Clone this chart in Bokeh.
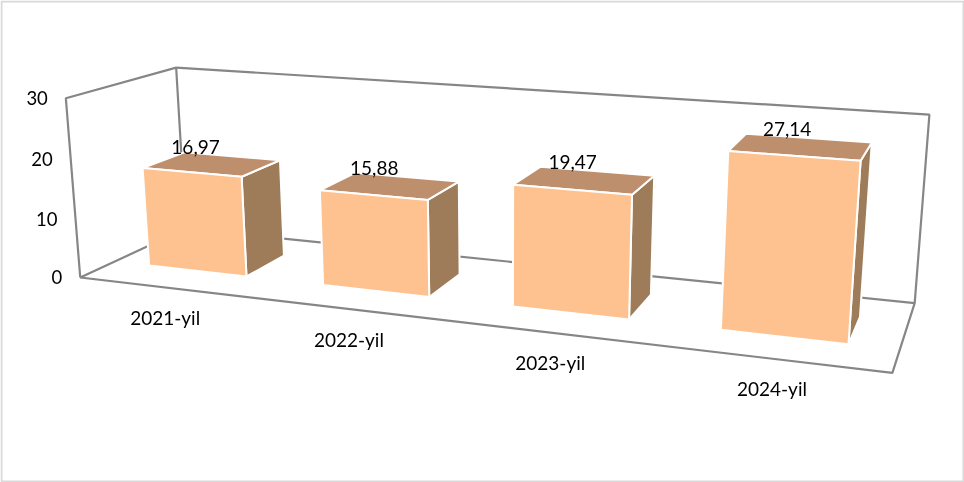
import numpy as np
from bokeh.plotting import figure
from bokeh.models import Range1d
from bokeh.embed import file_html
from bokeh.resources import INLINE
from bokeh.core.properties import value

categories = ["2021-yil", "2022-yil", "2023-yil", "2024-yil"]
values = [16.97, 15.88, 19.47, 27.14]
value_labels = ["16,97", "15,88", "19,47", "27,14"]
ticks = [0, 10, 20, 30]
YMAX = 30
N = len(categories)

# camera calibration: box corners in (category, value, depth) -> screen pixels
anchors = [((0, 0, 0), (79, 277)), ((N, 0, 0), (892, 372)), ((0, YMAX, 0), (66, 98)),
           ((0, 0, 1), (186, 228)), ((N, 0, 1), (914, 303)), ((0, YMAX, 1), (175, 67)),
           ((N, YMAX, 1), (929, 114))]
A = []
for (X, Y, Z), (u, w) in anchors:
    h = [X, Y, Z, 1]
    A.append(h + [0, 0, 0, 0] + [-u * c for c in h])
    A.append([0, 0, 0, 0] + h + [-w * c for c in h])
P = np.linalg.svd(np.array(A, float))[2][-1].reshape(3, 4)

def proj(X, Y, Z):
    r = P @ np.array([X, Y, Z, 1.0])
    return r[0] / r[2], r[1] / r[2]

def poly(*pts):
    xy = [proj(*q) for q in pts]
    return [a for a, _ in xy], [b for _, b in xy]

p = figure(width=964, height=482, output_backend="svg", toolbar_location=None,
           x_range=Range1d(0, 964), y_range=Range1d(482, 0), min_border=0,
           outline_line_color=None, background_fill_color="white",
           styles={"position": "fixed", "left": "0", "top": "0"})
p.axis.visible = False
p.grid.visible = False

# chart frame
p.quad(left=[1], right=[963], top=[1], bottom=[481], fill_color=None,
       line_color="#D9D9D9", line_width=2)

WALL = "#868686"
for pts in [
    [(0, 0, 0), (0, YMAX, 0), (0, YMAX, 1), (0, 0, 1), (0, 0, 0)],
    [(0, YMAX, 1), (N, YMAX, 1), (N, 0, 1), (0, 0, 1)],
    [(0, 0, 0), (N, 0, 0), (N, 0, 1)],
]:
    xs, ys = poly(*pts)
    p.line(xs, ys, line_color=WALL, line_width=2.2)

FONT = value("Lato")
TEXT = "#000000"

# value-axis labels
tx, ty = zip(*[proj(0, t, 0) for t in ticks])
p.text([a - 18 for a in tx], list(ty), text=[str(t) for t in ticks],
       text_font=FONT, text_font_size="18.5px", text_color=TEXT,
       text_align="right", text_baseline="middle")

# bars
BW0, BW1, D0, D1 = 0.21, 0.78, 0.30, 0.70
FRONT, TOP, SIDE = "#FDC290", "#BD8F6C", "#9E7B59"
label_dx = [-37, -33, -25, -22]
for i, v in enumerate(values):
    x0, x1 = i + BW0, i + BW1
    faces = [
        ([(x1, 0, D0), (x1, 0, D1), (x1, v, D1), (x1, v, D0)], SIDE),
        ([(x0, v, D0), (x1, v, D0), (x1, v, D1), (x0, v, D1)], TOP),
        ([(x0, 0, D0), (x1, 0, D0), (x1, v, D0), (x0, v, D0)], FRONT),
    ]
    for pts, col in faces:
        xs, ys = poly(*pts)
        p.patch(xs, ys, fill_color=col, line_color="white", line_width=2, line_join="round")

# data labels
for i, v in enumerate(values):
    mx, my = proj(i + 0.5, v, D1)
    p.text([mx + label_dx[i]], [my - 9], text=[value_labels[i]],
           text_font=FONT, text_font_size="19px", text_color=TEXT,
           text_align="center", text_baseline="middle")

# category labels
for i, c in enumerate(categories):
    mx, my = proj(i + 0.5, 0, 0)
    p.text([mx - 1], [my + 30], text=[c],
           text_font=FONT, text_font_size="19px", text_color=TEXT,
           text_align="center", text_baseline="middle")

open("out.html", "w").write(file_html(p, INLINE))
